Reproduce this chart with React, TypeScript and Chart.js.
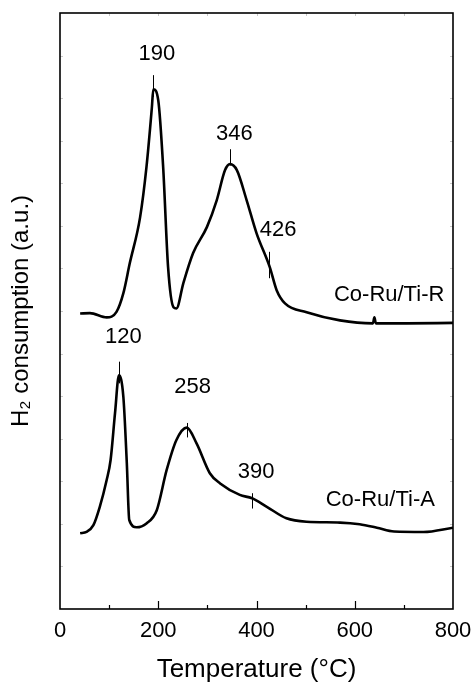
import { useEffect, useRef } from 'react';
import { Chart, registerables } from 'chart.js';

Chart.register(...registerables);

// Co-Ru/Ti-R (upper trace)
const tempR = [41, 61, 95, 115, 129, 142, 163, 176, 187, 190, 200, 210, 220, 231, 237, 251, 271, 299, 319, 336, 346, 360, 380, 400, 427, 441, 458, 502, 570, 637, 640, 643, 706, 800];
const valR = [6.94, 6.95, 6.85, 6.98, 7.42, 8.12, 9.2, 10.38, 11.78, 12.21, 11.95, 10.38, 8.03, 7.09, 7.06, 7.65, 8.36, 8.97, 9.6, 10.31, 10.45, 10.31, 9.6, 8.83, 8.03, 7.49, 7.18, 6.97, 6.78, 6.71, 6.85, 6.71, 6.71, 6.72];

// Co-Ru/Ti-A (lower trace)
const tempA = [41, 54, 68, 81, 95, 103, 112, 120, 129, 136, 141, 156, 176, 197, 217, 237, 258, 278, 305, 326, 366, 391, 421, 461, 502, 570, 610, 645, 680, 740, 800];
const valA = [1.78, 1.81, 1.97, 2.4, 3.03, 3.5, 4.6, 5.49, 4.98, 3.43, 2.09, 1.92, 2.01, 2.32, 3.26, 3.97, 4.26, 3.89, 3.19, 2.95, 2.68, 2.6, 2.4, 2.13, 2.05, 2.03, 1.99, 1.91, 1.82, 1.81, 1.91];

const xTicks = [0, 200, 400, 600, 800];
const seriesNames = ['Co-Ru/Ti-R', 'Co-Ru/Ti-A'];

// peak markers: temperature, marker bottom/top (a.u.), label position (temp, a.u.)
const peakTemps = [190, 346, 426, 120, 258, 390];
const peakMarkLow = [12.03, 10.42, 7.77, 5.3, 4.03, 2.36];
const peakMarkHigh = [12.54, 10.8, 8.39, 5.81, 4.37, 2.72];
const peakLabelT = [197, 355, 444, 129, 270, 399];
const peakLabelY = [13.04, 11.17, 8.9, 6.39, 5.22, 3.22];
const nameLabelT = [670, 652];
const nameLabelY = [7.37, 2.56];

const FONT = '"Liberation Sans", Arial, sans-serif';

const decorPlugin = {
  id: 'decor',
  afterDatasetsDraw(chart: any) {
    const { ctx, chartArea: a, scales } = chart;
    const x = scales.x;
    const y = scales.y;
    ctx.save();
    // faint ticks on top/left/right
    ctx.strokeStyle = '#c8c8c8';
    ctx.lineWidth = 1;
    ctx.beginPath();
    for (let t = 100; t < 800; t += 100) {
      const px = Math.round(x.getPixelForValue(t)) + 0.5;
      ctx.moveTo(px, a.top);
      ctx.lineTo(px, a.top + 3);
    }
    for (let v = 1; v < 14; v += 1) {
      const py = Math.round(y.getPixelForValue(v)) + 0.5;
      ctx.moveTo(a.left, py);
      ctx.lineTo(a.left + 3, py);
      ctx.moveTo(a.right, py);
      ctx.lineTo(a.right - 3, py);
    }
    ctx.stroke();
    // bottom ticks (inward)
    ctx.strokeStyle = '#000';
    ctx.lineWidth = 1.2;
    ctx.beginPath();
    for (let t = 100; t < 800; t += 100) {
      const px = Math.round(x.getPixelForValue(t)) + 0.5;
      const len = t % 200 === 0 ? 8 : 4;
      ctx.moveTo(px, a.bottom);
      ctx.lineTo(px, a.bottom - len);
    }
    ctx.stroke();
    // frame
    ctx.lineWidth = 1.6;
    ctx.strokeRect(a.left, a.top, a.right - a.left, a.bottom - a.top);
    // peak markers
    ctx.lineWidth = 1;
    ctx.beginPath();
    for (let i = 0; i < peakTemps.length; i++) {
      const px = Math.round(x.getPixelForValue(peakTemps[i])) + 0.5;
      ctx.moveTo(px, y.getPixelForValue(peakMarkLow[i]));
      ctx.lineTo(px, y.getPixelForValue(peakMarkHigh[i]));
    }
    ctx.stroke();
    // labels
    ctx.fillStyle = '#000';
    ctx.font = `22px ${FONT}`;
    ctx.textAlign = 'center';
    ctx.textBaseline = 'middle';
    for (let i = 0; i < peakTemps.length; i++) {
      ctx.fillText(String(peakTemps[i]), x.getPixelForValue(peakLabelT[i]), y.getPixelForValue(peakLabelY[i]));
    }
    for (let i = 0; i < seriesNames.length; i++) {
      ctx.fillText(seriesNames[i], x.getPixelForValue(nameLabelT[i]), y.getPixelForValue(nameLabelY[i]));
    }
    ctx.restore();
  },
};

export default function App() {
  const ref = useRef<HTMLCanvasElement | null>(null);
  useEffect(() => {
    if (!ref.current) return;
    const chart = new Chart(ref.current, {
      type: 'line',
      data: {
        datasets: [
          {
            label: seriesNames[0],
            data: tempR.map((t, i) => ({ x: t, y: valR[i] })),
            borderColor: '#000',
            borderWidth: 2.6,
            pointRadius: 0,
            cubicInterpolationMode: 'monotone',
            fill: false,
          },
          {
            label: seriesNames[1],
            data: tempA.map((t, i) => ({ x: t, y: valA[i] })),
            borderColor: '#000',
            borderWidth: 2.6,
            pointRadius: 0,
            cubicInterpolationMode: 'monotone',
            fill: false,
          },
        ],
      },
      plugins: [decorPlugin],
      options: {
        animation: false,
        responsive: true,
        maintainAspectRatio: false,
        layout: { padding: { top: 13, right: 23, left: 0, bottom: 0 } },
        plugins: { legend: { display: false }, tooltip: { enabled: false } },
        scales: {
          x: {
            type: 'linear',
            min: 0,
            max: 800,
            afterBuildTicks: (s: any) => {
              s.ticks = xTicks.map((v) => ({ value: v }));
            },
            afterFit: (s: any) => {
              s.height = 77;
              s.paddingLeft = 0;
              s.paddingRight = 0;
            },
            grid: { display: false, drawTicks: false },
            border: { display: false },
            ticks: { color: '#000', padding: 9, maxRotation: 0, font: { family: FONT, size: 22 } },
            title: {
              display: true,
              text: 'Temperature (°C)',
              color: '#000',
              font: { family: FONT, size: 26 },
              padding: { top: 0, bottom: 1 },
            },
          },
          y: {
            type: 'linear',
            min: 0,
            max: 14,
            afterFit: (s: any) => {
              s.width = 60;
              s.paddingTop = 0;
              s.paddingBottom = 0;
            },
            grid: { display: false, drawTicks: false },
            border: { display: false },
            ticks: { display: false },
            title: {
              display: true,
              text: 'H₂ consumption (a.u.)',
              color: '#000',
              font: { family: FONT, size: 24 },
              padding: { top: 7, bottom: 0 },
            },
          },
        },
      },
    } as any);
    return () => chart.destroy();
  }, []);
  return (
    <div style={{ position: 'fixed', left: 0, top: 0, width: 476, height: 686, background: '#fff' }}>
      <canvas ref={ref} />
    </div>
  );
}
